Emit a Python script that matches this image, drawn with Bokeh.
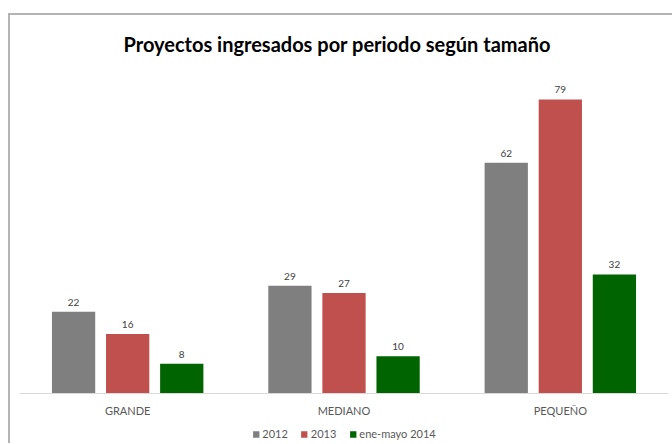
from bokeh.plotting import figure
from bokeh.models import ColumnDataSource, Range1d, Legend, LegendItem, LabelSet
from bokeh.core.properties import value
from bokeh.transform import dodge
from bokeh.embed import file_html
from bokeh.resources import INLINE

categories = ["GRANDE", "MEDIANO", "PEQUEÑO"]
series_names = ["2012", "2013", "ene-mayo 2014"]
v2012 = [22, 29, 62]
v2013 = [16, 27, 79]
v2014 = [8, 10, 32]
colors = ["#7f7f7f", "#c0504d", "#006400"]
title_text = "Proyectos ingresados por periodo según tamaño"

FONT = "Lato"

src = ColumnDataSource(dict(cat=categories, s0=v2012, s1=v2013, s2=v2014,
                            l0=[str(v) for v in v2012],
                            l1=[str(v) for v in v2013],
                            l2=[str(v) for v in v2014]))

p = figure(x_range=categories, y_range=Range1d(-13.4, 84.9),
           width=664, height=435, output_backend="svg", toolbar_location=None,
           min_border_left=11, min_border_right=4, min_border_top=68, min_border_bottom=0,
           title=title_text)
p.styles = {"margin-top": "8px", "margin-left": "8px",
            "background": "linear-gradient(#b4b4b4, #b4b4b4) 0 5px / 100% 2px no-repeat, "
                          "linear-gradient(#b4b4b4, #b4b4b4) 0 5px / 2px 100% no-repeat"}
p.border_fill_color = None
p.background_fill_color = None
p.x_range.range_padding = 0
p.title.align = "left"
p.title.offset = 104
p.title.text_font = FONT
p.title.text_font_size = "20px"
p.title.text_font_style = "bold"
p.title.text_color = "#000000"
p.title.standoff = 43
p.outline_line_color = None
p.xgrid.grid_line_color = None
p.ygrid.grid_line_color = None
p.yaxis.visible = False
p.xaxis.fixed_location = 0
p.xaxis.axis_line_color = "#d9d9d9"
p.xaxis.axis_line_width = 1
p.xaxis.major_tick_line_color = None
p.xaxis.minor_tick_line_color = None
p.xaxis.major_tick_out = 0
p.xaxis.major_tick_in = 0
p.xaxis.major_label_standoff = 10
p.xaxis.major_label_text_font = FONT
p.xaxis.major_label_text_font_size = "11px"
p.xaxis.major_label_text_color = "#595959"

renderers = []
offsets = [-0.25, 0.0, 0.25]
for i, (off, col) in enumerate(zip(offsets, colors)):
    r = p.vbar(x=dodge("cat", off, range=p.x_range), top="s%d" % i, bottom=0, width=0.2,
               source=src, color=col, line_color=None)
    renderers.append(r)
    lbl = LabelSet(x=dodge("cat", off, range=p.x_range), y="s%d" % i, text="l%d" % i,
                   source=src, text_align="center", text_baseline="bottom",
                   y_offset=6, text_font=value(FONT), text_font_size=value("10px"),
                   text_color="#404040")
    p.add_layout(lbl)

legend = Legend(items=[LegendItem(label=n, renderers=[r]) for n, r in zip(series_names, renderers)],
                orientation="horizontal", location="bottom_center",
                glyph_width=8, glyph_height=8, label_text_font=FONT, label_text_font_size="11px",
                label_text_color="#595959", spacing=12, padding=3, margin=3,
                label_standoff=3, border_line_color=None, background_fill_alpha=0)
p.add_layout(legend)

open("out.html", "w").write(file_html(p, INLINE))
